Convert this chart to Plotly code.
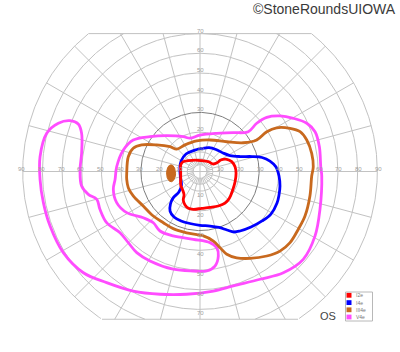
import numpy as np
import plotly.graph_objects as go

# ---------------- data (visual-field degrees: x = horizontal, y = vertical) ----------------
i2e_x = [-9.8, -8.5, -5.9, -2.5, 0.9, 4.2, 6.8, 8.8, 10.5, 13.6, 16.1, 17.8, 18.3, 17.8, 16.6, 14.9,
         12.7, 9.3, 5.1, 0.9, -3.4, -5.9, -7.6, -8.5, -8.1, -8.8, -9.8, -9.8, -9.8]
i2e_y = [3.3, 5.0, 5.5, 5.8, 5.5, 5.0, 3.8, 4.5, 5.8, 6.2, 5.0, 2.4, -0.9, -5.2, -9.4, -13.6,
         -16.1, -17.5, -18.2, -18.7, -19.2, -18.7, -17.0, -14.5, -11.9, -9.4, -6.9, -3.5, -0.1]

i4e_x = [-10.2, -9.6, -7.1, -3.0, 1.0, 4.6, 8.1, 11.7, 15.2, 20.3, 26.4, 31.5, 35.5, 38.6, 40.1, 40.6,
         40.1, 39.1, 36.0, 31.5, 25.9, 20.3, 17.3, 13.7, 9.6, 5.1, 0.0, -5.1, -9.6, -13.2, -15.2,
         -15.0, -13.7, -10.7, -9.4, -9.9]
i4e_y = [1.8, 5.3, 8.9, 10.7, 11.7, 12.1, 11.2, 9.4, 8.1, 7.6, 7.6, 7.1, 5.3, 2.3, -2.3, -7.4,
         -11.9, -16.0, -21.6, -25.1, -28.2, -30.2, -30.7, -29.7, -28.4, -27.7, -27.3, -26.4, -25.1,
         -23.1, -20.1, -16.5, -13.5, -10.4, -6.9, -3.3]

iii4e_x = [-37.2, -36.4, -33.9, -29.6, -22.0, -15.2, -11.8, -7.6, -1.7, 5.1, 13.6, 22.0, 28.8, 33.9,
           38.9, 45.7, 50.8, 54.2, 56.7, 57.5, 56.7, 55.8, 53.3, 49.9, 45.7, 40.6, 33.9, 25.4, 18.6,
           13.6, 10.2, 6.8, 1.7, -6.8, -13.6, -18.6, -23.7, -28.8, -33.9, -36.4, -37.2]
iii4e_y = [-0.9, 7.5, 11.8, 13.5, 13.5, 12.6, 11.4, 13.5, 15.5, 16.0, 15.1, 14.6, 16.0, 20.2,
           22.2, 21.9, 20.2, 16.0, 9.2, 2.4, -2.3, -12.4, -22.6, -29.3, -36.1, -40.4, -42.9, -44.1,
           -43.8, -42.0, -38.7, -35.3, -32.7, -31.1, -29.0, -26.0, -22.6, -17.5, -12.4, -8.2, -4.0]

v4e_x = [-43.1, -42.3, -38.9, -33.9, -25.4, -16.9, -8.5, -5.1, 0.0, 8.5, 16.9, 24.5, 28.8, 33.9,
         40.6, 47.4, 54.2, 58.4, 60.6, 61.3, 61.8, 60.9, 58.4, 52.4, 42.3, 30.5, 16.9, 6.8, -6.8,
         -20.3, -33.9, -47.4, -59.2, -69.4, -76.1, -79.5, -81.2, -81.2, -77.8, -71.9, -66.0, -61.8,
         -60.1, -60.1, -60.9, -60.1, -56.7, -52.4, -50.8, -47.4, -40.6, -36.4, -32.1, -25.4, -13.6,
         -3.4, 3.4, 7.6, 9.3, 8.5, 5.1, -3.4, -13.6, -20.3, -23.7, -28.8, -37.2, -42.3, -44.0]
v4e_y = [-4.0, 2.4, 10.9, 16.0, 17.7, 18.2, 17.7, 16.9, 18.5, 19.4, 19.7, 20.2, 24.5, 27.5,
         28.2, 27.0, 24.5, 20.2, 12.6, 2.4, -2.3, -19.2, -32.7, -44.6, -51.4, -54.7, -58.1, -60.7,
         -62.3, -62.3, -60.7, -56.4, -51.4, -41.2, -27.7, -15.8, -4.0, 7.5, 19.4, 24.5, 25.8, 24.1,
         19.4, 9.2, 0.8, -7.4, -11.6, -14.1, -19.2, -26.0, -31.1, -36.1, -41.2, -45.4, -49.6,
         -50.5, -50.5, -48.0, -42.9, -38.7, -36.1, -34.4, -32.7, -30.2, -26.0, -23.5, -20.9, -15.8,
         -9.0]

blind_spot_center = [-14.7, -0.9]
blind_spot_radii = [2.3, 4.3]

ring_ecc = [10, 20, 30, 40, 50, 60, 70, 80, 90]
label_ecc_h = [10, 20, 30, 40, 50, 60, 70, 80, 90]
label_ecc_v = [10, 20, 30, 40, 50, 60, 70]
meridians = list(range(0, 360, 15))
legend_labels = ["I2e", "I4e", "III4e", "V4e"]

# ---------------- styling / layout constants ----------------
W, H = 400, 352
PX_PER_DEG = 1.97
CX, CY = 200.0, 171.5
TOP_CLIP, BOT_CLIP, OUTER = 70.0, -75.0, 90.0
GRID = "#c2c2c2"
DARK = "#7d7d7d"
colors = {"I2e": "#ff0000", "I4e": "#0000ff", "III4e": "#c8691e", "V4e": "#ff4cff"}

x_range = [-CX / PX_PER_DEG, (W - CX) / PX_PER_DEG]
y_range = [-(H - CY) / PX_PER_DEG, CY / PX_PER_DEG]

fig = go.Figure()


def clip_ring(r, step=0.5):
    t = np.radians(np.arange(0, 360 + step, step))
    x, y = r * np.cos(t), r * np.sin(t)
    xs, ys = [], []
    for a, b in zip(x, y):
        if b > TOP_CLIP or b < BOT_CLIP:
            xs.append(None); ys.append(None)
        else:
            xs.append(a); ys.append(b)
    return xs + [None], ys + [None]


gx, gy = [], []
for r in ring_ecc:
    if r == 30:
        continue
    a, b = clip_ring(r)
    gx += a; gy += b
# meridians
for m in meridians:
    c, s = np.cos(np.radians(m)), np.sin(np.radians(m))
    rmax = OUTER
    if s > 1e-9:
        rmax = min(rmax, TOP_CLIP / s)
    elif s < -1e-9:
        rmax = min(rmax, -BOT_CLIP / -s)
    r0 = 0 if m % 90 == 0 else 6.5
    gx += [r0 * c, rmax * c, None]; gy += [r0 * s, rmax * s, None]
# clip edges
for yc in (TOP_CLIP, BOT_CLIP):
    hw = np.sqrt(OUTER ** 2 - yc ** 2)
    gx += [-hw, hw, None]; gy += [yc, yc, None]
# central tick ring
for r in (3.5, 6.5):
    a, b = clip_ring(r, 4)
    gx += a; gy += b
for m in range(0, 360, 10):
    c, s = np.cos(np.radians(m)), np.sin(np.radians(m))
    gx += [3.5 * c, 6.5 * c, None]; gy += [3.5 * s, 6.5 * s, None]

fig.add_trace(go.Scatter(x=gx, y=gy, mode="lines", line=dict(color=GRID, width=1),
                         hoverinfo="skip", showlegend=False))
a, b = clip_ring(30)
fig.add_trace(go.Scatter(x=a, y=b, mode="lines", line=dict(color=DARK, width=1),
                         hoverinfo="skip", showlegend=False))

# blind spot
t = np.radians(np.arange(0, 361, 6))
fig.add_trace(go.Scatter(x=blind_spot_center[0] + blind_spot_radii[0] * np.cos(t),
                         y=blind_spot_center[1] + blind_spot_radii[1] * np.sin(t),
                         mode="lines", fill="toself", fillcolor=colors["III4e"],
                         line=dict(color=colors["III4e"], width=1), hoverinfo="skip",
                         showlegend=False))

isopters = [("V4e", v4e_x, v4e_y), ("III4e", iii4e_x, iii4e_y),
            ("I4e", i4e_x, i4e_y), ("I2e", i2e_x, i2e_y)]
for name, xs, ys in isopters:
    fig.add_trace(go.Scatter(x=list(xs) + [xs[0]], y=list(ys) + [ys[0]], mode="lines", name=name,
                             line=dict(color=colors[name], width=2.8, shape="spline", smoothing=1),
                             showlegend=False))

annotations = []
for r in label_ecc_h:
    for sgn in (-1, 1):
        annotations.append(dict(x=sgn * (r + 0.5), y=1.2, text=str(r), showarrow=False,
                                font=dict(size=6, color="#a0a0a0", family="Liberation Sans")))
for r in label_ecc_v:
    annotations.append(dict(x=0, y=r + 1.5, text=str(r), showarrow=False,
                            font=dict(size=6, color="#a0a0a0", family="Liberation Sans")))
    annotations.append(dict(x=0, y=-(r + 2), text=str(r), showarrow=False,
                            font=dict(size=6, color="#a0a0a0", family="Liberation Sans")))

annotations.append(dict(xref="paper", yref="paper", x=398 / W, y=1 - 9 / H, xanchor="right",
                        yanchor="middle", text="©StoneRoundsUIOWA", showarrow=False,
                        font=dict(size=14, color="#3a3a3a", family="Liberation Sans")))
annotations.append(dict(xref="paper", yref="paper", x=328 / W, y=1 - 316 / H, xanchor="center",
                        yanchor="middle", text="OS", showarrow=False,
                        font=dict(size=11, color="#444444", family="Liberation Sans")))

shapes = [dict(type="rect", xref="paper", yref="paper", x0=345.5 / W, x1=372.5 / W,
               y0=1 - 321 / H, y1=1 - 292 / H, line=dict(color="#b8b8b8", width=1),
               fillcolor="white", layer="above")]
row_c = [295.3, 302.6, 309.8, 317.0]
for lab, yc in zip(legend_labels, row_c):
    shapes.append(dict(type="rect", xref="paper", yref="paper", x0=346.5 / W, x1=351.5 / W,
                       y0=1 - (yc + 2.4) / H, y1=1 - (yc - 2.4) / H, line=dict(width=0),
                       fillcolor=colors[lab], layer="above"))
    annotations.append(dict(xref="paper", yref="paper", x=354 / W, y=1 - yc / H, xanchor="left",
                            yanchor="middle", text=lab, showarrow=False,
                            font=dict(size=5, color="#777777", family="Liberation Sans")))

fig.update_layout(
    width=W, height=H, margin=dict(l=0, r=0, t=0, b=0),
    paper_bgcolor="white", plot_bgcolor="white",
    xaxis=dict(range=x_range, visible=False, fixedrange=True),
    yaxis=dict(range=y_range, visible=False, fixedrange=True),
    annotations=annotations, shapes=shapes, showlegend=False,
)
fig.write_html("out.html")
